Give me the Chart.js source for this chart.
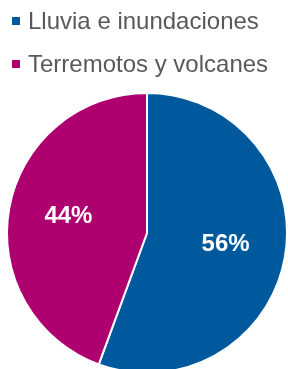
<!DOCTYPE html>
<html>
<head>
<meta charset="utf-8">
<script src="https://cdn.jsdelivr.net/npm/chart.js@4"></script>
<style>
html,body{margin:0;padding:0;background:#fff;overflow:hidden;width:288px;height:369px;}
#wrap{position:absolute;left:0;top:0;width:288px;height:380px;}
.leg{position:absolute;left:12px;font-family:"Liberation Sans",Arial,sans-serif;font-size:24px;color:#595959;white-space:nowrap;line-height:24px;}
.leg span.box{display:inline-block;width:8px;height:8px;margin-right:8px;vertical-align:middle;position:relative;top:-2px;}
</style>
</head>
<body>
<div id="wrap"><canvas id="c" width="288" height="380"></canvas></div>
<div class="leg" id="l0" style="top:9px"></div>
<div class="leg" id="l1" style="top:52px"></div>
<script>
const categories = ["Lluvia e inundaciones", "Terremotos y volcanes"];
const values = [55.6, 44.4];
const labels = ["56%", "44%"];
const colors = ["#00599C", "#AE006F"];

categories.forEach((c, i) => {
  const el = document.getElementById('l' + i);
  el.innerHTML = '<span class="box" style="background:' + colors[i] + '"></span>' + c;
});

const labelPlugin = {
  id: 'sliceLabels',
  afterDatasetsDraw(chart) {
    const ctx = chart.ctx;
    const meta = chart.getDatasetMeta(0);
    ctx.save();
    ctx.font = 'bold 24px "Liberation Sans", Arial, sans-serif';
    ctx.fillStyle = '#fff';
    ctx.textAlign = 'center';
    ctx.textBaseline = 'middle';
    meta.data.forEach((arc, i) => {
      const p = arc.getProps(['x', 'y', 'startAngle', 'endAngle', 'outerRadius']);
      const mid = (p.startAngle + p.endAngle) / 2;
      const r = p.outerRadius * 0.57;
      ctx.fillText(labels[i], p.x + Math.cos(mid) * r, p.y + Math.sin(mid) * r - 3);
    });
    ctx.restore();
  }
};

new Chart(document.getElementById('c'), {
  type: 'pie',
  data: {
    labels: categories,
    datasets: [{
      data: values,
      backgroundColor: colors,
      borderColor: '#fff',
      borderWidth: 2,
      hoverOffset: 0
    }]
  },
  options: {
    responsive: false,
    animation: false,
    layout: { padding: { top: 92, left: 6, right: 0, bottom: 6 } },
    plugins: { legend: { display: false }, tooltip: { enabled: false } }
  },
  plugins: [labelPlugin]
});
</script>
</body>
</html>
